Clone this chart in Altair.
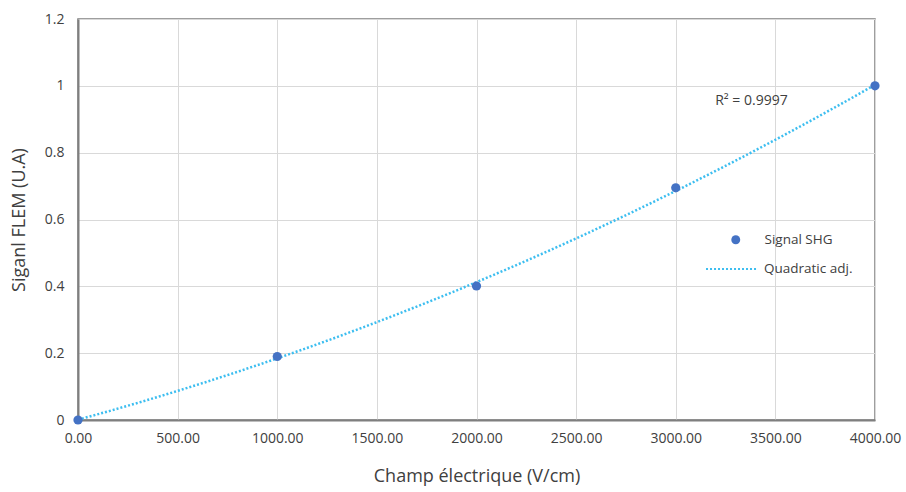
import altair as alt
import pandas as pd

# Measured SHG signal versus applied electric field
champ = [0, 1000, 2000, 3000, 4000]
signal = [0.0, 0.19, 0.401, 0.695, 1.0]
serie_points = "Signal SHG"
serie_fit = "Quadratic adj."
r2_label = "R² = 0.9997"
r2_pos = (3380, 0.955)

x_ticks = [0, 500, 1000, 1500, 2000, 2500, 3000, 3500, 4000]
y_ticks = [0, 0.2, 0.4, 0.6, 0.8, 1.0, 1.2]

df = pd.DataFrame({"champ": champ, "signal": signal,
                   "serie": [serie_points] * len(champ)})

FONT = "Open Sans"
TEXT_COLOR = "#404040"
POINT_COLOR = "#4472C4"
FIT_COLOR = "#3DBEF0"

x_enc = alt.X("champ:Q",
              scale=alt.Scale(domain=[0, 4000], nice=False),
              axis=alt.Axis(values=x_ticks, format=".2f",
                            title="Champ électrique (V/cm)"))
y_enc = alt.Y("signal:Q",
              scale=alt.Scale(domain=[0, 1.2], nice=False),
              axis=alt.Axis(values=y_ticks, format="~g",
                            title="Siganl FLEM (U.A)"))

base = alt.Chart(df)

fit = base.transform_regression(
    "champ", "signal", method="poly", order=2, extent=[0, 4000]
).transform_calculate(
    fit=f"'{serie_fit}'"
).mark_line(strokeDash=[2, 2], strokeWidth=2.5, strokeCap="butt").encode(
    x=x_enc, y=y_enc,
    stroke=alt.Stroke("fit:N",
                      scale=alt.Scale(domain=[serie_fit], range=[FIT_COLOR]),
                      legend=alt.Legend(title=None, orient="none",
                                        legendX=627, legendY=223,
                                        symbolType="stroke", symbolSize=2700,
                                        symbolStrokeWidth=2, symbolDash=[2, 2],
                                        labelOffset=5, padding=0,
                                        labelFont=FONT, labelFontSize=13.5,
                                        labelColor=TEXT_COLOR)),
)

pts = base.mark_point(filled=True, size=85, opacity=1).encode(
    x=x_enc, y=y_enc,
    color=alt.Color("serie:N",
                    scale=alt.Scale(domain=[serie_points], range=[POINT_COLOR]),
                    legend=alt.Legend(title=None, orient="none",
                                      legendX=651, legendY=214,
                                      symbolType="circle", symbolSize=80,
                                      symbolOpacity=1,
                                      labelOffset=22, padding=0,
                                      labelFont=FONT, labelFontSize=13.5,
                                      labelColor=TEXT_COLOR)),
)

r2 = alt.Chart(pd.DataFrame({"x": [r2_pos[0]], "y": [r2_pos[1]],
                             "t": [r2_label]})).mark_text(
    font=FONT, fontSize=14, color=TEXT_COLOR, align="center", baseline="middle"
).encode(x=alt.X("x:Q"), y=alt.Y("y:Q"), text="t:N")

chart = alt.layer(fit, pts, r2).properties(
    width=797, height=401,
    autosize=alt.AutoSizeParams(type="none"),
    padding={"left": 78, "top": 19, "right": 31, "bottom": 72},
    background="white",
).configure_view(
    stroke="#7F7F7F", strokeWidth=1.5
).configure_axis(
    grid=True, gridColor="#D9D9D9", gridWidth=1,
    domainColor="#7F7F7F", domainWidth=2,
    ticks=False, labelFlush=False,
    labelFont=FONT, labelFontSize=14, labelColor=TEXT_COLOR,
    titleFont=FONT, titleFontSize=18, titleColor=TEXT_COLOR,
    titleFontWeight="normal",
).configure_axisX(
    labelPadding=11, titlePadding=22
).configure_axisY(
    labelPadding=14, titlePadding=16
)

chart.save("out.html", embed_options={"renderer": "svg", "actions": False})
